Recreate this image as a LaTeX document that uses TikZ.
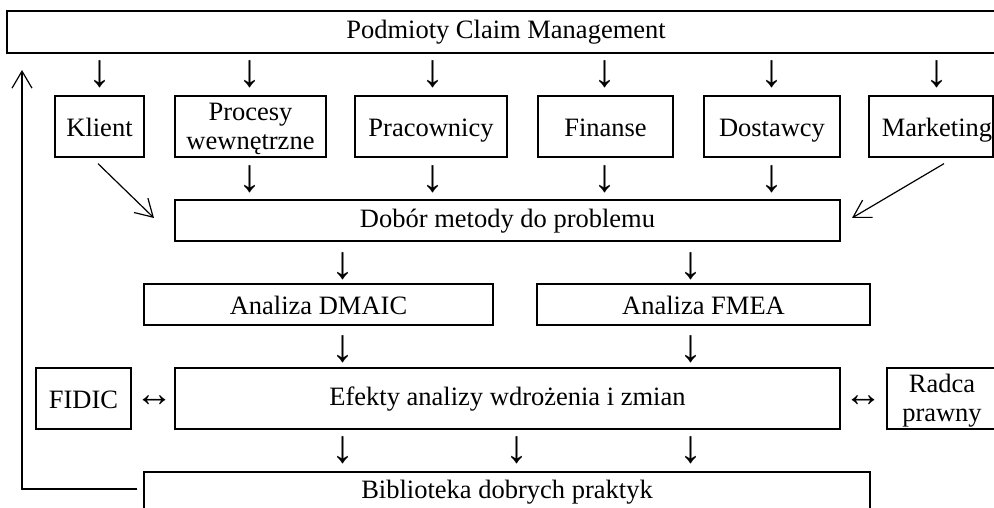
\documentclass[tikz,border=0pt]{standalone}
\usepackage{fontspec}
\setmainfont{Liberation Serif}
\usetikzlibrary{arrows.meta}

\tikzset{
  box/.style={draw, line width=1.3pt, inner sep=0pt, align=center, font=\fontsize{26.5}{29}\selectfont},
  tbox/.style={box, text height=18pt, text depth=5pt},
  hbox/.style={box, text height=20pt, text depth=0pt},
  glyph/.style={inner sep=0pt, font=\fontsize{46}{46}\selectfont},
  hglyph/.style={inner sep=0pt, font=\fontsize{38}{38}\selectfont},
  conn/.style={line width=1.2pt, -{Straight Barb[length=17pt,width=20pt]}},
}
% two lines, set a little low in the box
\newcommand{\twolines}[2]{\raisebox{-3pt}[\height][\depth]{\begin{tabular}{@{}c@{}}#1\\#2\end{tabular}}}

\begin{document}
\begin{tikzpicture}[x=1pt, y=-1pt]
  \useasboundingbox (0,0) rectangle (994,508);
  \clip (0,0) rectangle (994,508);

  % top
  \node (podmioty) [tbox, minimum width=998pt, minimum height=42pt] at (506,32) {Podmioty Claim Management};

  % subjects
  \node (klient) [hbox, minimum width=89pt, minimum height=61pt] at (99.5,126.5) {Klient};
  \node (procesy) [box, minimum width=151pt, minimum height=61pt] at (250.5,126.5) {\twolines{Procesy}{wewnętrzne}};
  \node (pracownicy) [hbox, minimum width=152pt, minimum height=61pt] at (431,126.5) {Pracownicy};
  \node (finanse) [hbox, minimum width=135pt, minimum height=61pt] at (605.5,126.5) {Finanse};
  \node (dostawcy) [hbox, minimum width=136pt, minimum height=61pt] at (772,126.5) {Dostawcy};
  \node (marketing) [hbox, minimum width=124pt, minimum height=61pt] at (931,126.5) {\hspace*{12pt}Marketing};

  \node (dobor) [tbox, minimum width=665pt, minimum height=41pt] at (507.5,220.5) {Dobór metody do problemu};

  \node (dmaic) [hbox, minimum width=349pt, minimum height=41pt] at (318.5,304.5) {Analiza DMAIC};
  \node (fmea) [hbox, minimum width=333pt, minimum height=41pt] at (703.5,304.5) {Analiza FMEA};

  \node (fidic) [hbox, minimum width=95pt, minimum height=61pt] at (83.5,398.5) {FIDIC};
  \node (efekty) [tbox, minimum width=665pt, minimum height=61pt] at (507.5,398.5) {Efekty analizy wdrożenia i zmian};
  \node (radca) [box, minimum width=110pt, minimum height=61pt] at (942,398.5) {\twolines{Radca}{prawny}};

  \node (biblioteka) [tbox, minimum width=726pt, minimum height=40pt] at (507,492) {Biblioteka dobrych praktyk};

  % arrow glyphs
  \foreach \x [count=\i] in {100,250,433,605,772,937}
    \node (da\i) [glyph] at (\x,74) {↓};
  \foreach \x [count=\i] in {250,433,605,772}
    \node (db\i) [glyph] at (\x,179) {↓};
  \foreach \x [count=\i] in {343,691}
    \node (dc\i) [glyph] at (\x,266) {↓};
  \foreach \x [count=\i] in {343,691}
    \node (dd\i) [glyph] at (\x,349) {↓};
  \foreach \x [count=\i] in {343,517,691}
    \node (de\i) [glyph] at (\x,450) {↓};
  \node (lr1) [hglyph] at (154,401) {↔};
  \node (lr2) [hglyph] at (863,401) {↔};

  % connectors
  \coordinate (kl-end) at (154,218);
  \coordinate (mk-end) at (852,218);
  \coordinate (fb-top) at (22,70);
  \draw[conn] ([xshift=-1.5pt,yshift=-6pt]klient.south) -- (kl-end);
  \draw[conn] ([xshift=13pt,yshift=-6pt]marketing.south) -- (mk-end);
  \draw[conn] ([xshift=-6pt,yshift=3pt]biblioteka.west) -| (fb-top);
\end{tikzpicture}
\end{document}
